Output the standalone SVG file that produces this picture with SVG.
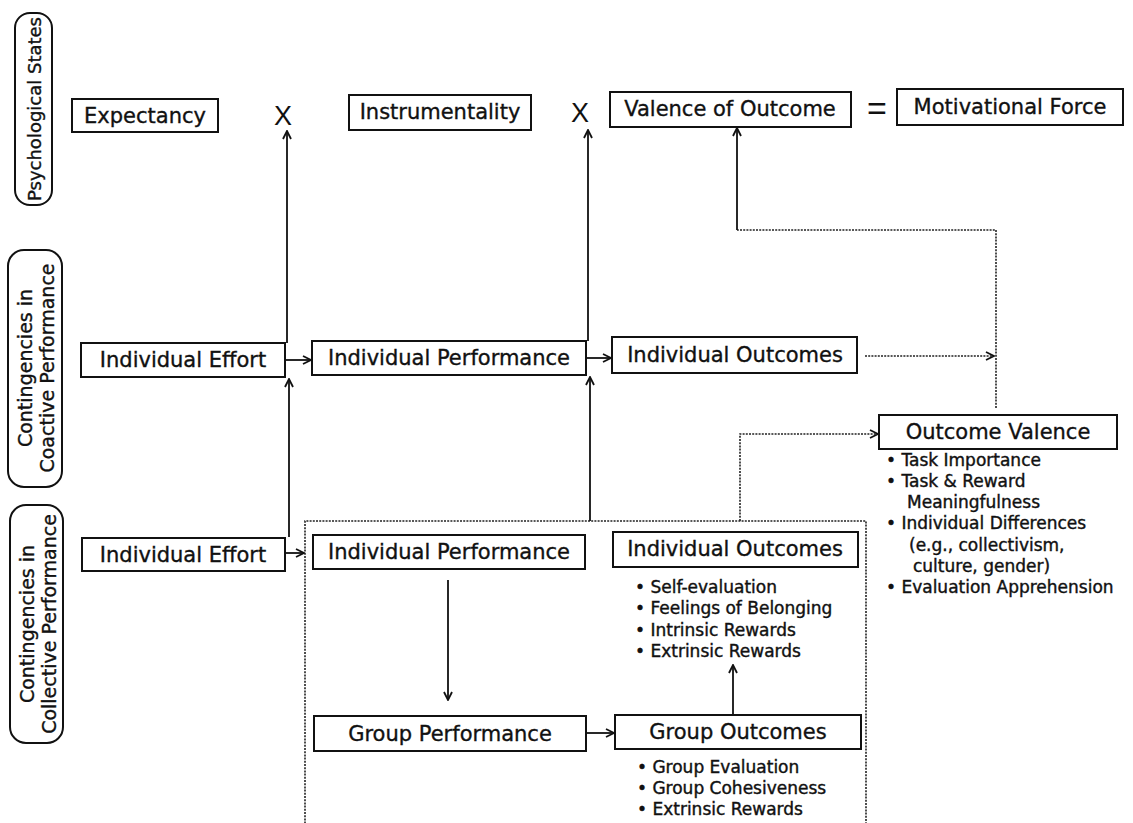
<svg xmlns="http://www.w3.org/2000/svg" width="1133" height="823" viewBox="0 0 1133 823">
<style>
.box{fill:#fff;stroke:#111;stroke-width:2}
.pill{fill:#fff;stroke:#111;stroke-width:2}
.lbl{font-family:"DejaVu Sans",sans-serif;font-size:21px;fill:#111;stroke:#111;stroke-width:0.35;text-anchor:middle;dominant-baseline:central}
.plbl{font-family:"DejaVu Sans",sans-serif;font-size:19px;fill:#111;stroke:#111;stroke-width:0.35;text-anchor:middle;dominant-baseline:central}
.bul{font-family:"DejaVu Sans",sans-serif;font-size:17px;fill:#111;stroke:#111;stroke-width:0.4}
.sym{font-family:"Liberation Sans",sans-serif;fill:#111;text-anchor:middle;dominant-baseline:central}
.ln{fill:none;stroke:#111;stroke-width:1.8}
.dt{fill:none;stroke:#222;stroke-width:1.6;stroke-dasharray:2 1.2}
</style>
<defs>
<marker id="arr" viewBox="0 0 10 10" refX="9" refY="5" markerWidth="10" markerHeight="10" orient="auto" markerUnits="userSpaceOnUse">
<path d="M1,1 L9,5 L1,9" fill="none" stroke="#111" stroke-width="1.8"/>
</marker>
</defs>
<rect width="1133" height="823" fill="#fff"/>

<g id="pill-psych"><rect class="pill" x="15" y="13" width="37" height="192" rx="15"/><text class="plbl" transform="translate(34,109) rotate(-90)" style="font-size:18px">Psychological States</text></g>
<g id="pill-coactive"><rect class="pill" x="8" y="250" width="54" height="237" rx="16"/><text class="plbl" transform="translate(25,368) rotate(-90)">Contingencies in</text><text class="plbl" transform="translate(47,368) rotate(-90)">Coactive Performance</text></g>
<g id="pill-collective"><rect class="pill" x="10" y="505" width="53" height="238" rx="16"/><text class="plbl" transform="translate(27,624) rotate(-90)">Contingencies in</text><text class="plbl" transform="translate(49,624) rotate(-90)">Collective Performance</text></g>

<g id="expectancy"><rect class="box" x="72" y="99" width="146" height="33"/><text class="lbl" x="145" y="116">Expectancy</text></g>
<g id="times1"><text class="sym" x="283" y="116" font-size="27">X</text></g>
<g id="instrumentality"><rect class="box" x="349" y="95" width="182" height="35"/><text class="lbl" x="440" y="112">Instrumentality</text></g>
<g id="times2"><text class="sym" x="580" y="113" font-size="27">X</text></g>
<g id="valence"><rect class="box" x="610" y="92" width="241" height="35"/><text class="lbl" x="730" y="109">Valence of Outcome</text></g>
<g id="equals"><text class="sym" x="877" y="108" font-size="34">=</text></g>
<g id="force"><rect class="box" x="897" y="89" width="226" height="36"/><text class="lbl" x="1010" y="107">Motivational Force</text></g>

<g id="co-effort"><rect class="box" x="81" y="343" width="204" height="34"/><text class="lbl" x="183" y="360">Individual Effort</text></g>
<g id="co-perf"><rect class="box" x="312" y="341" width="274" height="34"/><text class="lbl" x="449" y="358">Individual Performance</text></g>
<g id="co-outcomes"><rect class="box" x="612" y="337" width="245" height="36"/><text class="lbl" x="735" y="355">Individual Outcomes</text></g>

<g id="outcome-valence"><rect class="box" x="879" y="415" width="238" height="34"/><text class="lbl" x="998" y="432">Outcome Valence</text>
<text class="bul" x="886" y="466">• Task Importance</text>
<text class="bul" x="886" y="487">• Task &amp; Reward</text>
<text class="bul" x="907" y="508">Meaningfulness</text>
<text class="bul" x="886" y="529">• Individual Differences</text>
<text class="bul" x="909" y="551">(e.g., collectivism,</text>
<text class="bul" x="913" y="572">culture, gender)</text>
<text class="bul" x="886" y="593">• Evaluation Apprehension</text>
</g>

<g id="collective-frame"><path class="dt" d="M305,830 V521 H866 V830"/></g>

<g id="cl-effort"><rect class="box" x="82" y="538" width="203" height="33"/><text class="lbl" x="183" y="555">Individual Effort</text></g>
<g id="cl-perf"><rect class="box" x="313" y="535" width="272" height="34"/><text class="lbl" x="449" y="552">Individual Performance</text></g>
<g id="cl-outcomes"><rect class="box" x="613" y="532" width="245" height="35"/><text class="lbl" x="735" y="549">Individual Outcomes</text>
<text class="bul" x="635" y="593">• Self-evaluation</text>
<text class="bul" x="635" y="614">• Feelings of Belonging</text>
<text class="bul" x="635" y="636">• Intrinsic Rewards</text>
<text class="bul" x="635" y="657">• Extrinsic Rewards</text>
</g>
<g id="group-perf"><rect class="box" x="314" y="716" width="272" height="35"/><text class="lbl" x="450" y="734">Group Performance</text></g>
<g id="group-outcomes"><rect class="box" x="615" y="715" width="246" height="34"/><text class="lbl" x="738" y="732">Group Outcomes</text>
<text class="bul" x="637" y="773">• Group Evaluation</text>
<text class="bul" x="637" y="794">• Group Cohesiveness</text>
<text class="bul" x="637" y="815">• Extrinsic Rewards</text>
</g>

<g id="connectors">
<path class="ln" d="M285,360 H311" marker-end="url(#arr)"/>
<path class="ln" d="M586,358 H611" marker-end="url(#arr)"/>
<path class="dt" d="M865,356 H994" marker-end="url(#arr)"/>
<path class="ln" d="M287,343 V131" marker-end="url(#arr)"/>
<path class="ln" d="M588,341 V130" marker-end="url(#arr)"/>
<path class="dt" d="M996,408 V230 H737"/>
<path class="ln" d="M737,230 V128" marker-end="url(#arr)"/>
<path class="ln" d="M285,553 H304" marker-end="url(#arr)"/>
<path class="ln" d="M289,537 V379" marker-end="url(#arr)"/>
<path class="ln" d="M590,521 V377" marker-end="url(#arr)"/>
<path class="dt" d="M740,521 V434 H878" marker-end="url(#arr)"/>
<path class="ln" d="M448,580 V700" marker-end="url(#arr)"/>
<path class="ln" d="M586,733 H614" marker-end="url(#arr)"/>
<path class="ln" d="M733,714 V665" marker-end="url(#arr)"/>
</g>
</svg>
